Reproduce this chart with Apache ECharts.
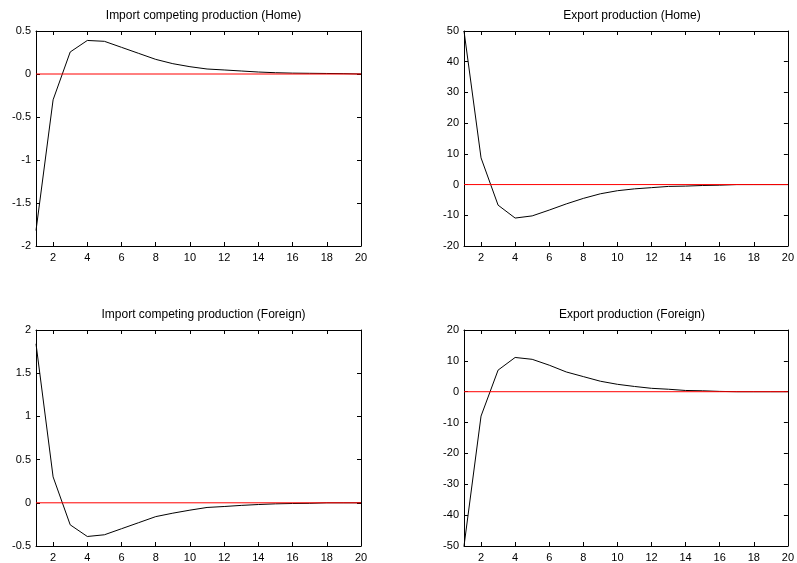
<!DOCTYPE html>
<html><head><meta charset="utf-8">
<script src="https://cdn.jsdelivr.net/npm/echarts@6/dist/echarts.min.js"></script>
<style>html,body{margin:0;padding:0;background:#fff}#c{width:797px;height:563px}</style>
</head><body><div id="c"></div>
<script>
var periods = [1,2,3,4,5,6,7,8,9,10,11,12,13,14,15,16,17,18,19,20];
var xTicks = [2,4,6,8,10,12,14,16,18,20];
var importHome = [-1.82,-0.30,0.256,0.39,0.38,0.31,0.24,0.17,0.12,0.085,0.058,0.047,0.035,0.023,0.015,0.010,0.008,0.006,0.004,0.0];
var exportHome = [50,8.7,-6.7,-10.9,-10.2,-8.3,-6.3,-4.5,-3.0,-2.0,-1.4,-1.0,-0.6,-0.5,-0.3,-0.2,0,0,0,0];
var importForeign = [1.84,0.30,-0.255,-0.39,-0.37,-0.30,-0.23,-0.16,-0.12,-0.085,-0.054,-0.043,-0.03,-0.02,-0.012,-0.008,-0.006,0,0,0];
var exportForeign = [-50,-7.9,7.0,11.1,10.5,8.6,6.4,4.9,3.4,2.4,1.7,1.1,0.8,0.4,0.3,0.1,0,0,0,0];
var zeroLine = [[1,0],[20,0]];
var titles = ['Import competing production (Home)','Export production (Home)','Import competing production (Foreign)','Export production (Foreign)'];
var yRanges = [[-2,0.5,0.5],[-20,50,10],[-0.5,2,0.5],[-50,20,10]];
var seriesData = [importHome, exportHome, importForeign, exportForeign];

var grids = [
  {left:36, top:31, width:325, height:215},
  {left:464, top:31, width:326, height:215},
  {left:36, top:330, width:325, height:216},
  {left:464, top:330, width:326, height:216}
];
var font = 'Liberation Sans, Arial, sans-serif';
var option = {backgroundColor:'#fff', animation:false, title:[], grid:[], xAxis:[], yAxis:[], series:[]};
grids.forEach(function(g,i){
  option.grid.push(Object.assign({containLabel:false, show:false}, g));
  option.title.push({text:titles[i], left:g.left+g.width/2, top:g.top-26, textAlign:'center',
    textStyle:{fontFamily:font, fontSize:12, fontWeight:'normal', color:'#000'}});
  var axLine = {show:true, onZero:false, lineStyle:{color:'#000', width:1}};
  option.xAxis.push({type:'value', gridIndex:i, min:1, max:20, position:'bottom',
    axisLine:axLine, splitLine:{show:false},
    axisTick:{show:true, inside:true, length:4, customValues:xTicks, lineStyle:{color:'#000'}},
    axisLabel:{customValues:xTicks, fontFamily:font, fontSize:11, color:'#000', margin:6}});
  option.xAxis.push({type:'value', gridIndex:i, min:1, max:20, position:'top',
    axisLine:axLine, splitLine:{show:false},
    axisTick:{show:true, inside:true, length:4, customValues:xTicks, lineStyle:{color:'#000'}},
    axisLabel:{show:false}});
  var r = yRanges[i];
  option.yAxis.push({type:'value', gridIndex:i, min:r[0], max:r[1], interval:r[2], position:'left',
    axisLine:axLine, splitLine:{show:false},
    axisTick:{show:true, inside:true, length:4, lineStyle:{color:'#000'}},
    axisLabel:{fontFamily:font, fontSize:11, color:'#000', margin:5}});
  option.yAxis.push({type:'value', gridIndex:i, min:r[0], max:r[1], interval:r[2], position:'right',
    axisLine:axLine, splitLine:{show:false},
    axisTick:{show:true, inside:true, length:4, lineStyle:{color:'#000'}},
    axisLabel:{show:false}});
  option.series.push({type:'line', xAxisIndex:i*2, yAxisIndex:i*2, symbol:'none',
    data: periods.map(function(p,k){return [p, seriesData[i][k]];}),
    lineStyle:{color:'#000', width:1}, z:3});
  option.series.push({type:'line', xAxisIndex:i*2, yAxisIndex:i*2, symbol:'none',
    data: zeroLine, lineStyle:{color:'#ff0000', width:1}, z:4});
});
var chart = echarts.init(document.getElementById('c'), null, {renderer:'canvas'});
chart.setOption(option);
</script></body></html>
